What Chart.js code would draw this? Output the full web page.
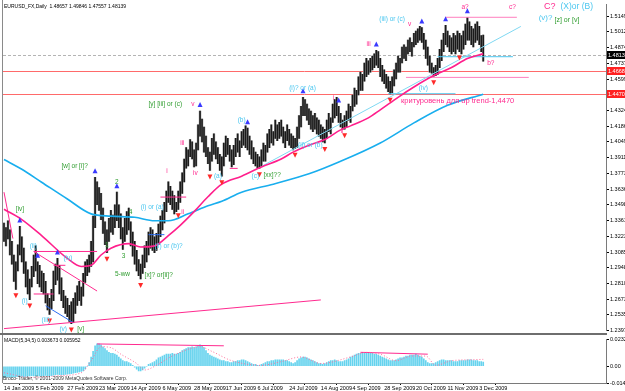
<!DOCTYPE html>
<html>
<head>
<meta charset="utf-8">
<script src="https://cdn.jsdelivr.net/npm/chart.js@4.4.1/dist/chart.umd.min.js"></script>
<style>
  html, body { margin: 0; padding: 0; background: #fff; }
  #wrap { position: relative; width: 625px; height: 391px; overflow: hidden; }
  #price { position: absolute; left: 0; top: 0; }
  #macd { position: absolute; left: 0; top: 335px; }
</style>
</head>
<body>
<div id="wrap">
  <canvas id="price" width="625" height="335"></canvas>
  <canvas id="macd" width="625" height="56"></canvas>
</div>
<script>
// daily bars, 14 Jan 2009 .. 8 Dec 2009
var highs = [
  1.334,1.330,1.336,1.328,1.318,1.306,1.300,1.315,1.331,1.322,
  1.312,1.300,1.293,1.285,1.296,1.306,1.314,1.300,1.297,1.292,
  1.290,1.283,1.272,1.268,1.276,1.292,1.298,1.303,1.297,1.286,
  1.275,1.270,1.268,1.262,1.265,1.268,1.273,1.279,1.283,1.278,
  1.290,1.300,1.302,1.306,1.318,1.340,1.374,1.370,1.365,1.360,
  1.347,1.335,1.328,1.338,1.345,1.341,1.350,1.361,1.350,1.342,
  1.330,1.338,1.344,1.347,1.335,1.326,1.318,1.310,1.302,1.298,
  1.306,1.314,1.318,1.326,1.330,1.328,1.322,1.325,1.333,1.340,
  1.345,1.352,1.362,1.370,1.366,1.362,1.358,1.352,1.362,1.370,
  1.378,1.390,1.400,1.398,1.407,1.405,1.398,1.404,1.420,1.432,
  1.425,1.418,1.410,1.400,1.396,1.408,1.412,1.405,1.400,1.394,
  1.392,1.404,1.410,1.408,1.402,1.398,1.402,1.408,1.412,1.406,
  1.414,1.416,1.419,1.417,1.410,1.406,1.400,1.396,1.394,1.392,
  1.398,1.404,1.402,1.412,1.416,1.420,1.414,1.424,1.420,1.422,
  1.424,1.418,1.414,1.420,1.416,1.412,1.410,1.408,1.418,1.428,
  1.436,1.444,1.442,1.438,1.434,1.432,1.428,1.430,1.426,1.424,
  1.420,1.418,1.416,1.424,1.430,1.426,1.438,1.442,1.444,1.436,
  1.430,1.424,1.428,1.432,1.438,1.436,1.446,1.452,1.450,1.462,
  1.466,1.464,1.474,1.478,1.476,1.478,1.480,1.482,1.485,1.484,
  1.478,1.472,1.468,1.464,1.462,1.458,1.462,1.468,1.474,1.480,
  1.478,1.488,1.490,1.488,1.494,1.496,1.492,1.500,1.502,1.504,
  1.506,1.505,1.500,1.494,1.488,1.480,1.474,1.470,1.472,1.478,
  1.486,1.494,1.500,1.507,1.502,1.498,1.496,1.500,1.498,1.502,
  1.500,1.498,1.502,1.508,1.514,1.510,1.506,1.504,1.508,1.510,
  1.506,1.498,1.4985
];
var lows = [
  1.318,1.314,1.320,1.306,1.298,1.283,1.276,1.292,1.306,1.300,
  1.290,1.278,1.272,1.267,1.278,1.287,1.292,1.281,1.278,1.274,
  1.272,1.264,1.258,1.254,1.259,1.266,1.280,1.284,1.272,1.266,
  1.260,1.255,1.252,1.248,1.246,1.247,1.255,1.262,1.266,1.262,
  1.270,1.282,1.288,1.291,1.296,1.300,1.330,1.350,1.345,1.337,
  1.325,1.315,1.308,1.318,1.326,1.324,1.330,1.336,1.330,1.320,
  1.311,1.318,1.324,1.328,1.314,1.305,1.298,1.292,1.288,1.285,
  1.290,1.295,1.300,1.306,1.312,1.310,1.308,1.310,1.315,1.322,
  1.328,1.334,1.344,1.352,1.350,1.346,1.342,1.344,1.346,1.352,
  1.360,1.370,1.382,1.384,1.392,1.390,1.383,1.384,1.398,1.410,
  1.405,1.396,1.392,1.386,1.380,1.388,1.394,1.390,1.386,1.380,
  1.375,1.384,1.392,1.394,1.388,1.383,1.385,1.392,1.396,1.392,
  1.400,1.402,1.400,1.398,1.394,1.390,1.386,1.384,1.382,1.382,
  1.384,1.388,1.388,1.396,1.400,1.404,1.402,1.408,1.406,1.408,
  1.410,1.404,1.400,1.406,1.402,1.400,1.398,1.399,1.400,1.408,
  1.418,1.428,1.428,1.424,1.420,1.416,1.414,1.416,1.412,1.410,
  1.408,1.405,1.404,1.408,1.414,1.412,1.422,1.426,1.428,1.422,
  1.418,1.416,1.416,1.418,1.424,1.422,1.432,1.436,1.438,1.446,
  1.450,1.450,1.458,1.462,1.464,1.466,1.468,1.470,1.472,1.470,
  1.462,1.458,1.456,1.452,1.449,1.447,1.448,1.454,1.460,1.466,
  1.466,1.474,1.478,1.476,1.482,1.484,1.480,1.488,1.490,1.492,
  1.494,1.492,1.486,1.478,1.472,1.466,1.465,1.4625,1.463,1.464,
  1.470,1.476,1.484,1.490,1.488,1.484,1.482,1.484,1.482,1.486,
  1.484,1.482,1.486,1.490,1.494,1.494,1.490,1.488,1.492,1.494,
  1.490,1.484,1.4756
];

// moving averages, read at a few bars
var pinkMaBars = [0, 9, 19, 32, 39, 44, 49, 54, 63, 69, 76, 83, 89, 96, 103, 110, 120, 130, 140, 146, 154, 162, 170, 175, 184, 190, 199, 207, 217, 226, 234, 242];
var pinkMaVals = [1.346, 1.337, 1.323, 1.303, 1.296, 1.297, 1.306, 1.312, 1.316, 1.313, 1.314, 1.323, 1.332, 1.344, 1.357, 1.368, 1.375, 1.383, 1.390, 1.396, 1.402, 1.407, 1.4155, 1.419, 1.426, 1.433, 1.444, 1.453, 1.463, 1.470, 1.478, 1.482];
var blueMaBars = [0, 9, 19, 32, 44, 54, 66, 76, 83, 93, 103, 110, 120, 136, 154, 170, 190, 207, 224, 242];
var blueMaVals = [1.3896, 1.381, 1.3697, 1.355, 1.342, 1.340, 1.339, 1.336, 1.336, 1.342, 1.349, 1.353, 1.361, 1.368, 1.377, 1.388, 1.404, 1.4216, 1.437, 1.4467];

// MACD(5,34,5)
var macdHist = [
  -0.0096,-0.0094,-0.0092,-0.0094,-0.0096,-0.0092,-0.0090,-0.0088,-0.0086,-0.0088,
  -0.0090,-0.0088,-0.0086,-0.0084,-0.0082,-0.0084,-0.0080,-0.0082,-0.0084,-0.0082,
  -0.0080,-0.0078,-0.0080,-0.0082,-0.0080,-0.0076,-0.0072,-0.0070,-0.0072,-0.0074,
  -0.0072,-0.0070,-0.0068,-0.0066,-0.0064,-0.0060,-0.0056,-0.0052,-0.0048,-0.0044,
  -0.0040,-0.0024,0.0000,0.0032,0.0080,0.0128,0.0176,0.0192,0.0192,0.0184,
  0.0168,0.0152,0.0136,0.0120,0.0112,0.0112,0.0104,0.0096,0.0080,0.0064,
  0.0048,0.0040,0.0040,0.0032,0.0024,0.0008,-0.0008,-0.0024,-0.0040,-0.0040,
  -0.0032,-0.0016,0.0000,0.0016,0.0024,0.0032,0.0040,0.0056,0.0072,0.0080,
  0.0088,0.0096,0.0104,0.0104,0.0104,0.0112,0.0104,0.0104,0.0112,0.0120,
  0.0136,0.0144,0.0152,0.0160,0.0160,0.0168,0.0160,0.0168,0.0176,0.0184,
  0.0176,0.0160,0.0136,0.0112,0.0096,0.0088,0.0080,0.0072,0.0064,0.0056,
  0.0048,0.0048,0.0040,0.0040,0.0032,0.0032,0.0040,0.0040,0.0048,0.0048,
  0.0056,0.0056,0.0048,0.0040,0.0032,0.0024,0.0016,0.0016,0.0008,0.0008,
  0.0016,0.0024,0.0032,0.0040,0.0040,0.0048,0.0048,0.0056,0.0056,0.0056,
  0.0056,0.0056,0.0048,0.0048,0.0040,0.0032,0.0024,0.0032,0.0048,0.0064,
  0.0072,0.0080,0.0080,0.0072,0.0064,0.0056,0.0048,0.0040,0.0032,0.0024,
  0.0024,0.0016,0.0024,0.0032,0.0040,0.0048,0.0048,0.0056,0.0048,0.0040,
  0.0040,0.0040,0.0048,0.0056,0.0064,0.0080,0.0088,0.0096,0.0104,0.0112,
  0.0112,0.0120,0.0120,0.0120,0.0112,0.0112,0.0112,0.0104,0.0104,0.0096,
  0.0088,0.0080,0.0072,0.0064,0.0056,0.0048,0.0048,0.0048,0.0056,0.0064,
  0.0072,0.0072,0.0080,0.0088,0.0088,0.0096,0.0096,0.0096,0.0104,0.0096,
  0.0088,0.0080,0.0064,0.0048,0.0032,0.0024,0.0024,0.0024,0.0032,0.0040,
  0.0048,0.0056,0.0056,0.0048,0.0048,0.0048,0.0048,0.0040,0.0040,0.0040,
  0.0048,0.0048,0.0048,0.0048,0.0056,0.0056,0.0056,0.0048,0.0048,0.0048,
  0.0040,0.0040,0.003673
];
var signalBars = [0, 14, 29, 39, 44, 49, 54, 59, 67, 71, 77, 84, 94, 99, 105, 115, 130, 140, 150, 160, 175, 183, 190, 198, 206, 213, 218, 226, 236, 242];
var signalVals = [-0.0056, -0.0096, -0.0080, -0.0056, 0.0048, 0.0168, 0.0160, 0.0104, 0.0024, -0.0032, 0.0008, 0.0080, 0.0152, 0.0168, 0.0128, 0.0048, 0.0008, 0.0040, 0.0080, 0.0024, 0.0080, 0.0120, 0.0104, 0.0048, 0.0088, 0.0088, 0.0008, 0.0048, 0.0056, 0.005952];

// axes
var dateBars = [0, 16, 32, 48, 64, 80, 96, 112, 128, 144, 160, 176, 192, 208, 224, 240];
var dateLabels = ['14 Jan 2009', '5 Feb 2009', '27 Feb 2009', '23 Mar 2009', '14 Apr 2009', '6 May 2009', '28 May 2009', '17 Jun 2009', '6 Jul 2009', '24 Jul 2009', '14 Aug 2009', '4 Sep 2009', '28 Sep 2009', '20 Oct 2009', '11 Nov 2009', '3 Dec 2009'];
var priceTicks = [1.51498, 1.50122, 1.48746, 1.47370, 1.45994, 1.44618, 1.43242, 1.41866, 1.40490, 1.39114, 1.37738, 1.36362, 1.34986, 1.33610, 1.32234, 1.30858, 1.29482, 1.28106, 1.26730, 1.25354, 1.23978];
var macdTicks = [0.0232, 0, -0.0144];

var lastBar = { open: 1.48657, high: 1.49846, low: 1.47557, close: 1.48139 };
var levels = [1.4668, 1.4470];
var upArrows = [8, 17, 27, 46, 57, 99, 123, 151, 169, 188, 211, 223, 234];
var downArrows = [6, 13, 23, 34, 52, 69, 88, 104, 110, 129, 147, 162, 172, 195, 217, 230];

// hand drawn lines: bar, price, bar, price, colour
var PINK = '#ff2a8f', CYAN = '#49c6ef', GREEN = '#2f9d2f', BLUE = '#2a6cf0';
var drawnLines = [
  [130, 1.3835, 261, 1.506, '#7fd8f2'],
  [0, 1.2416, 160, 1.2667, PINK],
  [223, 1.514, 259, 1.514, '#ff7fbf'],
  [203, 1.4614, 265, 1.4614, '#ff7fbf'],
  [219, 1.4795, 257, 1.4795, CYAN],
  [194, 1.4471, 228, 1.4471, CYAN],
  [15, 1.3091, 47, 1.3091, PINK],
  [15, 1.2719, 25, 1.2719, PINK],
  [25, 1.297, 31, 1.297, PINK],
  [15, 1.3091, 47, 1.2745, PINK],
  [21, 1.2616, 35, 1.2468, BLUE],
  [0, 1.361, 4.5, 1.3204, PINK],
  [79, 1.3567, 92, 1.3567, PINK],
  [114, 1.3818, 118, 1.3818, PINK],
  [73, 1.3238, 81, 1.3238, BLUE]
];
var macdLines = [[47, 0.0192, 111, 0.0176], [180, 0.0120, 214, 0.0104]];

// wave labels: bar, price, text, colour, font size
var notes = [
  [6, 1.3463, '[iv]', GREEN, 6.5],
  [9, 1.266, '(i)', CYAN, 6.5],
  [13, 1.3135, '(ii)', CYAN, 6.5],
  [19, 1.2486, '(iii)', CYAN, 6.5],
  [30, 1.303, '(iv)', CYAN, 6.5],
  [28, 1.241, '(v)', CYAN, 6.5],
  [37, 1.241, '[v]', GREEN, 6.5],
  [29, 1.3835, '[w] or [i]?', GREEN, 6.5],
  [56, 1.3697, '2', GREEN, 6.5],
  [63, 1.3437, '4', GREEN, 6.5],
  [51, 1.315, '1', GREEN, 6.5],
  [59.5, 1.305, '3', GREEN, 6.5],
  [56, 1.289, '5-ww', GREEN, 6.5],
  [71, 1.288, '[x]? or[ii]?', GREEN, 6.5],
  [69, 1.348, '(i) or (a)', CYAN, 6.5],
  [76, 1.3135, '(ii) or (b)?', CYAN, 6.5],
  [82, 1.379, 'i', PINK, 6.5],
  [89.5, 1.3437, 'ii', PINK, 6.5],
  [89, 1.404, 'iii', PINK, 6.5],
  [95.5, 1.378, 'iv', PINK, 6.5],
  [73, 1.438, '[y] [iii] or (c)', GREEN, 6.5],
  [94.5, 1.438, 'v', PINK, 6.5],
  [106, 1.375, '(a)', CYAN, 6.5],
  [118, 1.424, '(b)', CYAN, 6.5],
  [125, 1.375, '(c)', CYAN, 6.5],
  [131, 1.376, '[xx]??', GREEN, 6.5],
  [144, 1.452, '(i)? or (a)', CYAN, 6.5],
  [148.5, 1.4025, '(ii) or (b)', CYAN, 6.5],
  [166, 1.4432, 'i', PINK, 6.5],
  [170, 1.4147, 'ii', PINK, 6.5],
  [183, 1.4908, 'iii', PINK, 6.5],
  [189.5, 1.5124, '(iii) or (c)', CYAN, 6.5],
  [204, 1.508, 'v', PINK, 6.5],
  [209.5, 1.4518, '(iv)', CYAN, 6.5],
  [200.5, 1.4406, 'критуровень для up trend-1,4470', PINK, 7.5],
  [231, 1.5228, 'a?', PINK, 6.5],
  [255, 1.5228, 'c?', PINK, 6.5],
  [272.7, 1.5236, 'C?', PINK, 9],
  [281, 1.5236, '(X)or (B)', CYAN, 8.5],
  [270, 1.5133, '(v)?', CYAN, 8],
  [278, 1.5115, '[z] or [v]', GREEN, 7],
  [244, 1.4735, 'b?', PINK, 6.5]
];

var FONT = 'Liberation Sans';
var xMin = -0.5, xMax = 304;

var bars = highs.map(function (h, i) { return { x: i, y: [lows[i], h] }; });
function pts(b, v) { return b.map(function (x, i) { return { x: x, y: v[i] }; }); }

var priceSets = [
  { type: 'line', data: pts(pinkMaBars, pinkMaVals), borderColor: '#ff1f8c', borderWidth: 1.6, pointRadius: 0, cubicInterpolationMode: 'monotone', order: 1 },
  { type: 'line', data: pts(blueMaBars, blueMaVals), borderColor: '#19aeee', borderWidth: 1.6, pointRadius: 0, cubicInterpolationMode: 'monotone', order: 1 }
];
drawnLines.forEach(function (l) {
  priceSets.push({ type: 'line', data: [{ x: l[0], y: l[1] }, { x: l[2], y: l[3] }], borderColor: l[4], borderWidth: 1, pointRadius: 0, order: 2 });
});
priceSets.push({ type: 'bar', data: bars, backgroundColor: '#b4b4b4', barThickness: 2, grouped: false, order: 6 });
priceSets.push({ type: 'bar', data: bars, backgroundColor: '#1a1a1a', barThickness: 1, grouped: false, order: 5 });

function tri(ctx, x, y, up, col) {
  ctx.fillStyle = col;
  ctx.beginPath();
  if (up) { ctx.moveTo(x - 2.5, y + 2); ctx.lineTo(x, y - 3); ctx.lineTo(x + 2.5, y + 2); }
  else { ctx.moveTo(x - 2.5, y - 2); ctx.lineTo(x, y + 3); ctx.lineTo(x + 2.5, y - 2); }
  ctx.closePath();
  ctx.fill();
}
function tag(ctx, y, text, bg) {
  ctx.fillStyle = bg;
  ctx.fillRect(607, Math.round(y) - 4, 18, 8);
  ctx.fillStyle = '#fff';
  ctx.font = '5.5px ' + FONT;
  ctx.textAlign = 'left';
  ctx.textBaseline = 'middle';
  ctx.fillText(text, 608, Math.round(y));
}

var priceDeco = {
  id: 'priceDeco',
  beforeDatasetsDraw: function (chart) {
    var ctx = chart.ctx, ys = chart.scales.y, a = chart.chartArea;
    ctx.save();
    levels.forEach(function (v) {
      var y = Math.round(ys.getPixelForValue(v)) + 0.5;
      ctx.strokeStyle = '#ff6a6a';
      ctx.lineWidth = 1;
      ctx.beginPath(); ctx.moveTo(a.left, y); ctx.lineTo(a.right, y); ctx.stroke();
    });
    var yc = Math.round(ys.getPixelForValue(lastBar.close)) + 0.5;
    ctx.strokeStyle = '#b4b4b4';
    ctx.setLineDash([3, 2]);
    ctx.beginPath(); ctx.moveTo(a.left, yc); ctx.lineTo(a.right, yc); ctx.stroke();
    ctx.restore();
  },
  afterDatasetsDraw: function (chart) {
    var ctx = chart.ctx, xs = chart.scales.x, ys = chart.scales.y;
    ctx.save();
    upArrows.forEach(function (i) {
      tri(ctx, xs.getPixelForValue(i), ys.getPixelForValue(highs[i]) - 6, true, '#3a3aff');
    });
    downArrows.forEach(function (i) {
      tri(ctx, xs.getPixelForValue(i), ys.getPixelForValue(lows[i]) + 6, false, '#ff2a2a');
    });
    ctx.textAlign = 'left';
    ctx.textBaseline = 'middle';
    notes.forEach(function (n) {
      ctx.font = n[4] + 'px ' + FONT;
      ctx.fillStyle = n[3];
      ctx.fillText(n[2], xs.getPixelForValue(n[0]), ys.getPixelForValue(n[1]));
    });
    ctx.fillStyle = '#000';
    ctx.font = '5px ' + FONT;
    ctx.fillText('EURUSD_FX,Daily  ' + [lastBar.open, lastBar.high, lastBar.low, lastBar.close].map(function (v) { return v.toFixed(5); }).join(' '), 4, 7);
    ctx.restore();
  },
  afterDraw: function (chart) {
    var ctx = chart.ctx, ys = chart.scales.y;
    ctx.save();
    ctx.fillStyle = '#8a8a8a';
    ctx.fillRect(2, 0, 1, 335);
    ctx.fillStyle = '#6e6e6e';
    ctx.fillRect(0, 333, 607, 2);
    tag(ctx, ys.getPixelForValue(lastBar.close), lastBar.close.toFixed(5), '#000');
    levels.forEach(function (v) { tag(ctx, ys.getPixelForValue(v), v.toFixed(5), '#ff2020'); });
    ctx.restore();
  }
};

new Chart(document.getElementById('price'), {
  type: 'bar',
  data: { datasets: priceSets },
  options: {
    responsive: false,
    animation: false,
    devicePixelRatio: 1,
    layout: { padding: { left: 3, top: 3, right: 0, bottom: 2 } },
    plugins: { legend: { display: false }, tooltip: { enabled: false } },
    scales: {
      x: { type: 'linear', min: xMin, max: xMax, offset: false, display: false },
      y: {
        position: 'right',
        min: 1.23978,
        max: 1.52536,
        afterBuildTicks: function (s) { s.ticks = priceTicks.map(function (v) { return { value: v }; }); },
        afterFit: function (s) { s.width = 19; },
        grid: { drawOnChartArea: false, tickLength: 3, color: '#000' },
        border: { color: '#7a7a7a' },
        ticks: { autoSkip: false, padding: 1, color: '#000', font: { family: FONT, size: 5.5 },
          callback: function (v) { return Number(v).toFixed(5); } }
      }
    }
  },
  plugins: [priceDeco]
});

var macdSets = [
  { type: 'line', data: pts(signalBars, signalVals), borderColor: '#ff6f9a', borderWidth: 1, borderDash: [1, 2], pointRadius: 0, cubicInterpolationMode: 'monotone', order: 1 }
];
macdLines.forEach(function (l) {
  macdSets.push({ type: 'line', data: [{ x: l[0], y: l[1] }, { x: l[2], y: l[3] }], borderColor: PINK, borderWidth: 1, pointRadius: 0, order: 1 });
});
macdSets.push({ type: 'bar', data: macdHist.map(function (v, i) { return { x: i, y: v }; }), backgroundColor: '#66d3ee', barThickness: 1, grouped: false, order: 3 });

var macdDeco = {
  id: 'macdDeco',
  afterDraw: function (chart) {
    var ctx = chart.ctx;
    ctx.save();
    ctx.fillStyle = '#8a8a8a';
    ctx.fillRect(2, 0, 1, 48);
    ctx.fillStyle = '#000';
    ctx.font = '5px ' + FONT;
    ctx.textAlign = 'left';
    ctx.textBaseline = 'middle';
    ctx.fillText('MACD(5,34,5) ' + macdHist[macdHist.length - 1].toFixed(6) + ' ' + signalVals[signalVals.length - 1].toFixed(6), 4, 6);
    ctx.fillStyle = '#333';
    ctx.fillText('Broco-Trader, © 2001-2009 MetaQuotes Software Corp.', 3, 44);
    ctx.restore();
  }
};

new Chart(document.getElementById('macd'), {
  type: 'bar',
  data: { datasets: macdSets },
  options: {
    responsive: false,
    animation: false,
    devicePixelRatio: 1,
    layout: { padding: { left: 3, top: 1, right: 0, bottom: 0 } },
    plugins: { legend: { display: false }, tooltip: { enabled: false } },
    scales: {
      x: {
        type: 'linear', min: xMin, max: xMax, offset: false,
        afterBuildTicks: function (s) { s.ticks = dateBars.map(function (v) { return { value: v }; }); },
        afterFit: function (s) { s.height = 8; },
        grid: { drawOnChartArea: false, tickLength: 2, color: '#000' },
        border: { color: '#7a7a7a' },
        ticks: { autoSkip: false, maxRotation: 0, align: 'start', padding: 0, color: '#000', font: { family: FONT, size: 5.5 },
          callback: function (v, i) { return dateLabels[i]; } }
      },
      y: {
        position: 'right',
        min: -0.0144,
        max: 0.0232,
        afterBuildTicks: function (s) { s.ticks = macdTicks.map(function (v) { return { value: v }; }); },
        afterFit: function (s) { s.width = 19; },
        grid: { drawOnChartArea: false, tickLength: 3, color: '#000' },
        border: { color: '#7a7a7a' },
        ticks: { autoSkip: false, padding: 1, color: '#000', font: { family: FONT, size: 5.5 },
          callback: function (v) { return v === 0 ? '0.00' : Number(v).toFixed(6); } }
      }
    }
  },
  plugins: [macdDeco]
});
</script>
</body>
</html>
